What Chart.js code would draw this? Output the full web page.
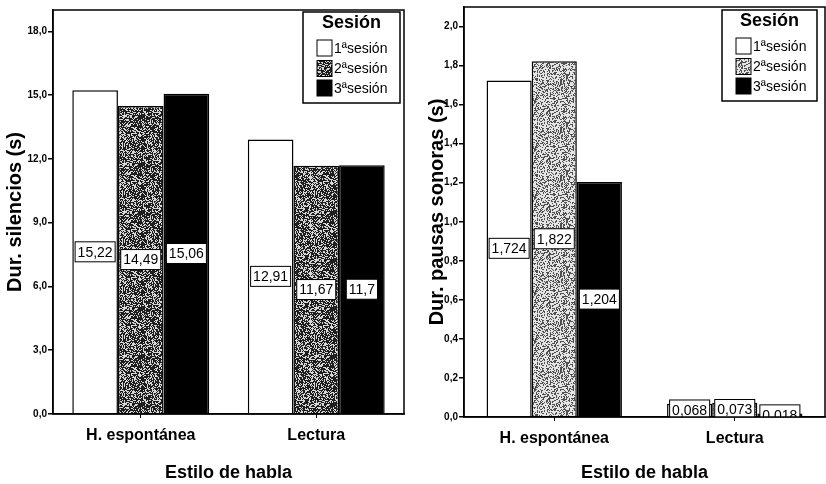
<!DOCTYPE html>
<html>
<head>
<meta charset="utf-8">
<script src="https://cdn.jsdelivr.net/npm/chart.js@4/dist/chart.umd.min.js"></script>
<style>
  html, body { margin: 0; padding: 0; background: #fff; }
  #wrap { position: relative; width: 826px; height: 484px; }
  #leftChart { position: absolute; left: 0; top: 0; }
  #rightChart { position: absolute; left: 413px; top: 0; }
</style>
</head>
<body>
<div id="wrap">
  <canvas id="leftChart" width="413" height="484"></canvas>
  <canvas id="rightChart" width="413" height="484"></canvas>
</div>
<script>
// Datos
const categories = ['H. espontánea', 'Lectura'];
const sessionLabels = ['1ªsesión', '2ªsesión', '3ªsesión'];

// Dur. silencios (s)
const silencios1 = [15.22, 12.91];
const silencios2 = [14.49, 11.67];
const silencios3 = [15.06, 11.7];
const silenciosTicks = [0, 3, 6, 9, 12, 15, 18];

// Dur. pausas sonoras (s)
const pausas1 = [1.724, 0.068];
const pausas2 = [1.822, 0.073];
const pausas3 = [1.204, 0.018];
const pausasTicks = [0, 0.2, 0.4, 0.6, 0.8, 1.0, 1.2, 1.4, 1.6, 1.8, 2.0];

const FONT = '"Liberation Sans", Arial, sans-serif';

// textura moteada para la 2ª sesión
function speckle(dark, light, density, seed) {
    const c = document.createElement('canvas');
    c.width = 48; c.height = 48;
    const g = c.getContext('2d');
    g.fillStyle = light;
    g.fillRect(0, 0, 48, 48);
    g.fillStyle = dark;
    let s = seed;
    for (let y = 0; y < 48; y++) {
        for (let x = 0; x < 48; x++) {
            s = (s * 1103515245 + 12345) & 0x7fffffff;
            if ((s % 1000) / 1000 < density) g.fillRect(x, y, 1, 1);
        }
    }
    return g.createPattern(c, 'repeat');
}

function fmt(v) {
    return String(v).replace('.', ',');
}

// etiquetas con recuadro en el centro de cada barra
const valueBoxes = {
    id: 'valueBoxes',
    afterDatasetsDraw(chart) {
        const ctx = chart.ctx;
        const area = chart.chartArea;
        ctx.save();
        ctx.beginPath();
        ctx.rect(area.left, area.top, area.right - area.left, area.bottom - area.top);
        ctx.clip();
        ctx.font = '14px ' + FONT;
        ctx.textAlign = 'center';
        ctx.textBaseline = 'middle';
        chart.data.datasets.forEach((ds, i) => {
            chart.getDatasetMeta(i).data.forEach((bar, j) => {
                const text = fmt(ds.data[j]);
                const cy = (bar.y + bar.base) / 2;
                const w = ctx.measureText(text).width + 5;
                const h = 20;
                ctx.fillStyle = '#fff';
                ctx.fillRect(bar.x - w / 2, cy - h / 2, w, h);
                ctx.strokeStyle = '#000';
                ctx.lineWidth = 1;
                ctx.strokeRect(bar.x - w / 2, cy - h / 2, w, h);
                ctx.fillStyle = '#000';
                ctx.fillText(text, bar.x, cy + 1);
            });
        });
        ctx.restore();
    }
};

// marco del área de trazado + leyenda dentro
const frameLegend = {
    id: 'frameLegend',
    afterDraw(chart, args, opts) {
        const ctx = chart.ctx;
        const a = chart.chartArea;
        ctx.save();
        ctx.strokeStyle = '#000';
        ctx.lineWidth = 1.5;
        ctx.strokeRect(a.left, a.top, a.right - a.left, a.bottom - a.top);

        const w = opts.width, h = 91;
        const x = a.right - opts.right - w;
        const y = a.top + opts.top;
        ctx.fillStyle = '#fff';
        ctx.fillRect(x, y, w, h);
        ctx.lineWidth = 1.5;
        ctx.strokeRect(x, y, w, h);

        ctx.fillStyle = '#000';
        ctx.font = 'bold 18px ' + FONT;
        ctx.textAlign = 'center';
        ctx.textBaseline = 'middle';
        ctx.fillText('Sesión', x + w / 2, y + 11);

        ctx.font = '14px ' + FONT;
        ctx.textAlign = 'left';
        const rows = [36, 56.5, 76];
        chart.data.datasets.forEach((ds, i) => {
            const cy = y + rows[i];
            ctx.fillStyle = ds.backgroundColor;
            ctx.fillRect(x + 14, cy - 8, 15, 16);
            ctx.strokeStyle = '#000';
            ctx.lineWidth = 1;
            ctx.strokeRect(x + 14, cy - 8, 15, 16);
            ctx.fillStyle = '#000';
            ctx.fillText(ds.label, x + 31, cy + 1);
        });
        ctx.restore();
    }
};

function makeChart(id, series, grey, yTitle, tickVals, yMax, decimals, pad, xHeight, yWidth, titlePad, catPct, legendPos) {
    const fills = ['#fff', grey, '#000'];
    return new Chart(document.getElementById(id), {
        type: 'bar',
        data: {
            labels: categories,
            datasets: series.map((d, i) => ({
                label: sessionLabels[i],
                data: d,
                backgroundColor: fills[i],
                borderColor: '#000',
                borderWidth: 1.5,
                categoryPercentage: catPct,
                barPercentage: 1.0
            }))
        },
        options: {
            responsive: false,
            animation: false,
            layout: { padding: pad },
            plugins: {
                legend: { display: false },
                tooltip: { enabled: false },
                frameLegend: legendPos
            },
            scales: {
                x: {
                    grid: { display: true, drawOnChartArea: false, offset: false, tickLength: 4, color: '#000' },
                    border: { color: '#000', width: 1.5 },
                    ticks: { color: '#000', font: { family: FONT, size: 16, weight: 'bold' }, padding: 8 },
                    title: {
                        display: true, text: 'Estilo de habla', color: '#000',
                        font: { family: FONT, size: 18, weight: 'bold' },
                        padding: { top: 0, bottom: 0 }
                    },
                    afterFit: s => { s.height = xHeight; }
                },
                y: {
                    min: 0,
                    max: yMax,
                    afterBuildTicks: s => { s.ticks = tickVals.map(v => ({ value: v })); },
                    grid: { display: true, drawOnChartArea: false, tickLength: 5, color: '#000', lineWidth: 1.5 },
                    border: { color: '#000', width: 1.5 },
                    ticks: {
                        color: '#000', padding: 1,
                        font: { family: FONT, size: 10, weight: 'bold' },
                        callback: v => v.toFixed(decimals).replace('.', ',')
                    },
                    title: {
                        display: true, text: yTitle, color: '#000',
                        font: { family: FONT, size: 20, weight: 'bold' },
                        padding: { top: titlePad, bottom: 0 }
                    },
                    afterFit: s => { s.width = yWidth; }
                }
            }
        },
        plugins: [valueBoxes, frameLegend]
    });
}

const leftChart = makeChart('leftChart',
    [silencios1, silencios2, silencios3],
    speckle('#1e1e1e', '#d6d6d6', 0.6, 7),
    'Dur. silencios (s)', silenciosTicks, 19, 1,
    { top: 10, right: 9, left: 0, bottom: 0 }, 70, 53, 3, 0.78,
    { width: 97, right: 4, top: 2 });

const rightChart = makeChart('rightChart',
    [pausas1, pausas2, pausas3],
    speckle('#505050', '#e4e4e4', 0.38, 11),
    'Dur. pausas sonoras (s)', pausasTicks, 2.1, 1,
    { top: 5, right: 1, left: 0, bottom: 0 }, 67, 51, 12, 0.75,
    { width: 95, right: 8, top: 3 });
</script>
</body>
</html>
